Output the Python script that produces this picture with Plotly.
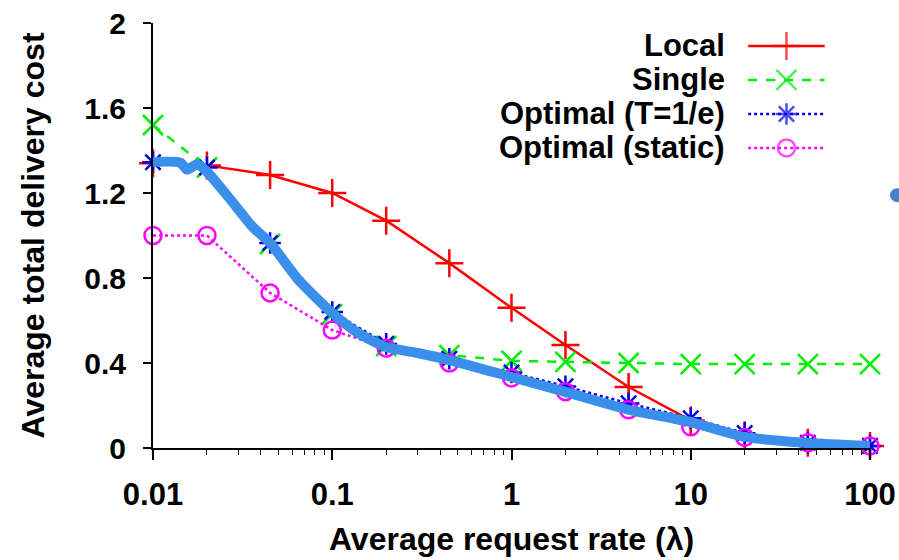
import plotly.graph_objects as go

# ---- data ----
rates = [0.01, 0.02, 0.045, 0.1, 0.2, 0.45, 1, 2, 4.5, 10, 20, 45, 100]
local_cost = [1.34, 1.33, 1.285, 1.20, 1.07, 0.87, 0.66, 0.485, 0.287, 0.13, 0.06, 0.025, 0.01]
single_cost = [1.52, 1.32, 0.96, 0.63, 0.48, 0.437, 0.41, 0.405, 0.40, 0.395, 0.395, 0.395, 0.395]
optimal_e_cost = [1.345, 1.32, 0.965, 0.64, 0.49, 0.42, 0.355, 0.29, 0.21, 0.14, 0.07, 0.025, 0.01]
optimal_static_cost = [1.0, 1.0, 0.73, 0.555, 0.47, 0.40, 0.33, 0.265, 0.18, 0.10, 0.05, 0.025, 0.01]

# thick overlay curve
overlay_rates = [0.01, 0.0142, 0.0155, 0.0176, 0.02, 0.027, 0.036, 0.045, 0.065, 0.1, 0.14,
                 0.2, 0.3, 0.45, 1, 2, 4.5, 10, 20, 45, 100]
overlay_cost = [1.346, 1.343, 1.31, 1.335, 1.30, 1.17, 1.04, 0.965, 0.79, 0.635, 0.54,
                0.475, 0.447, 0.414, 0.334, 0.264, 0.18, 0.122, 0.052, 0.024, 0.01]

series_names = ["Local", "Single", "Optimal (T=1/e)", "Optimal (static)"]
y_ticks = [0, 0.4, 0.8, 1.2, 1.6, 2]
y_tick_labels = ["0", "0.4", "0.8", "1.2", "1.6", "2"]
x_ticks = [0.01, 0.1, 1, 10, 100]
x_tick_labels = ["0.01", "0.1", "1", "10", "100"]
x_minor_ticks = [m * 10.0 ** e for e in range(-2, 2) for m in range(2, 10)]

FONT = "Liberation Sans, Arial, Helvetica, sans-serif"
TXT = dict(family=FONT, size=31, color="black", weight="bold")

styles = [
    dict(color="#ff0000", dash="solid", symbol="cross-thin-open", size=20),
    dict(color="#00ee00", dash="dash", symbol="x-thin-open", size=20),
    dict(color="#0000ee", dash="dot", symbol="asterisk-open", size=18),
    dict(color="#ff00ff", dash="dot", symbol="circle-open", size=17),
]
series = [local_cost, single_cost, optimal_e_cost, optimal_static_cost]

fig = go.Figure()

for name, ys, st in zip(series_names, series, styles):
    fig.add_trace(go.Scatter(
        x=rates, y=ys, name=name, mode="lines+markers",
        line=dict(color=st["color"], width=2.5, dash=st["dash"]),
        marker=dict(symbol=st["symbol"], size=st["size"], color=st["color"],
                    line=dict(color=st["color"], width=2.5)),
        showlegend=False, cliponaxis=False,
    ))

fig.add_trace(go.Scatter(
    x=overlay_rates, y=overlay_cost, mode="lines",
    line=dict(color="#3a8fea", width=10, shape="spline", smoothing=0.6),
    showlegend=False, cliponaxis=False,
))

# custom legend (text left, sample right) on a helper axis
rows = [3.5, 2.5, 1.5, 0.5]
for name, st, r in zip(series_names, styles, rows):
    fig.add_trace(go.Scatter(
        x=[0, 0.5, 1], y=[r, r, r], mode="lines+markers", xaxis="x2", yaxis="y2",
        line=dict(color=st["color"], width=2.5, dash=st["dash"]),
        marker=dict(symbol=st["symbol"], size=[0, st["size"], 0], color=st["color"],
                    line=dict(color=st["color"], width=2.5)),
        showlegend=False, hoverinfo="skip", cliponaxis=False,
    ))
    fig.add_annotation(
        x=0.8006, xref="paper", y=r, yref="y2", text=name, showarrow=False,
        xanchor="right", yanchor="middle", font=TXT,
    )

fig.add_shape(type="circle", xref="paper", yref="paper", xsizemode="pixel", ysizemode="pixel",
              xanchor=1.0377, yanchor=0.595, x0=-7, x1=7, y0=-7, y1=7,
              fillcolor="#4a80c8", line=dict(width=0))

fig.update_layout(
    width=899, height=560,
    margin=dict(l=153, r=29, t=23, b=112, autoexpand=False),
    plot_bgcolor="white", paper_bgcolor="white",
    font=dict(family=FONT, color="black"),
    xaxis=dict(
        type="log", range=[-2, 2], tickvals=x_ticks, ticktext=x_tick_labels,
        ticks="outside", ticklen=10, tickwidth=1.5, tickcolor="black",
        minor=dict(tickvals=x_minor_ticks, ticks="outside", ticklen=5, tickwidth=1,
                   tickcolor="black", showgrid=False),
        showline=True, linecolor="black", linewidth=2, showgrid=False, zeroline=False,
        tickfont=TXT, ticklabelstandoff=8, automargin=False, ticklabeloverflow="allow",
        title=dict(text="Average request rate (λ)", font=dict(TXT, size=32), standoff=16),
    ),
    yaxis=dict(
        range=[0, 2], tickvals=y_ticks, ticktext=y_tick_labels,
        ticks="outside", ticklen=8, tickwidth=1.5, tickcolor="black",
        showline=True, linecolor="black", linewidth=2, showgrid=False, zeroline=False,
        tickfont=dict(TXT, size=30), ticklabelstandoff=11, automargin=False,
        ticklabeloverflow="allow",
        title=dict(text="Average total delivery cost", font=dict(TXT, size=32), standoff=30),
    ),
    xaxis2=dict(domain=[0.830, 0.937], range=[0, 1], visible=False, anchor="y2"),
    yaxis2=dict(domain=[0.666, 0.986], range=[0, 4], visible=False, anchor="x2"),
)

fig.write_html(
    "out.html",
    config={"displayModeBar": False},
    post_script="document.body.style.margin='0';document.body.style.overflow='hidden';",
)
